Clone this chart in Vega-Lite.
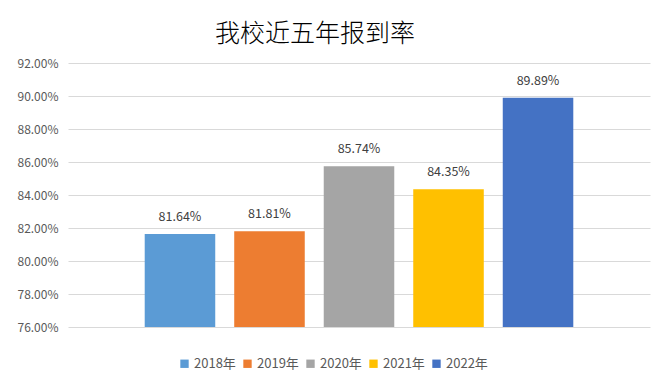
{
  "$schema": "https://vega.github.io/schema/vega-lite/v6.json",
  "autosize": "none",
  "width": 582,
  "height": 264,
  "padding": {"left": 68, "top": 63, "right": 22, "bottom": 61},
  "background": "white",
  "config": {
    "font": "Noto Sans CJK SC",
    "view": {"stroke": null}
  },
  "title": {
    "text": "我校近五年报到率",
    "fontSize": 25,
    "fontWeight": 300,
    "color": "#000000",
    "font": "Noto Sans CJK SC",
    "anchor": "middle",
    "dx": -44,
    "offset": 10
  },
  "data": {
    "values": [
      {"year": "2018年", "rate": 0.8164},
      {"year": "2019年", "rate": 0.8181},
      {"year": "2020年", "rate": 0.8574},
      {"year": "2021年", "rate": 0.8435},
      {"year": "2022年", "rate": 0.8989}
    ]
  },
  "encoding": {
    "x": {
      "field": "year",
      "type": "nominal",
      "axis": null,
      "scale": {"paddingInner": 0.212, "paddingOuter": 0.857}
    },
    "y": {
      "field": "rate",
      "type": "quantitative",
      "scale": {"domain": [0.76, 0.92], "zero": false, "nice": false},
      "axis": {
        "values": [0.76, 0.78, 0.80, 0.82, 0.84, 0.86, 0.88, 0.90, 0.92],
        "format": ".2%",
        "title": null,
        "domain": false,
        "ticks": false,
        "labelPadding": 10,
        "labelFontSize": 12,
        "labelColor": "#595959",
        "gridColor": "#d9d9d9",
        "gridWidth": 1
      }
    }
  },
  "layer": [
    {
      "mark": {"type": "bar"},
      "encoding": {
        "y2": {"datum": 0.76},
        "color": {
          "field": "year",
          "type": "nominal",
          "scale": {
            "domain": ["2018年", "2019年", "2020年", "2021年", "2022年"],
            "range": ["#5B9BD5", "#ED7D31", "#A5A5A5", "#FFC000", "#4472C4"]
          },
          "legend": {
            "title": null,
            "orient": "none",
            "direction": "horizontal",
            "legendX": 110,
            "legendY": 294,
            "symbolType": "square",
            "symbolSize": 70,
            "symbolStrokeWidth": 0,
            "labelFontSize": 13,
            "labelColor": "#595959",
            "labelOffset": 3,
            "columnPadding": 5
          }
        }
      }
    },
    {
      "mark": {"type": "text", "baseline": "bottom", "dy": -10, "fontSize": 12.5, "color": "#404040"},
      "encoding": {
        "text": {"field": "rate", "type": "quantitative", "format": ".2%"}
      }
    }
  ]
}
